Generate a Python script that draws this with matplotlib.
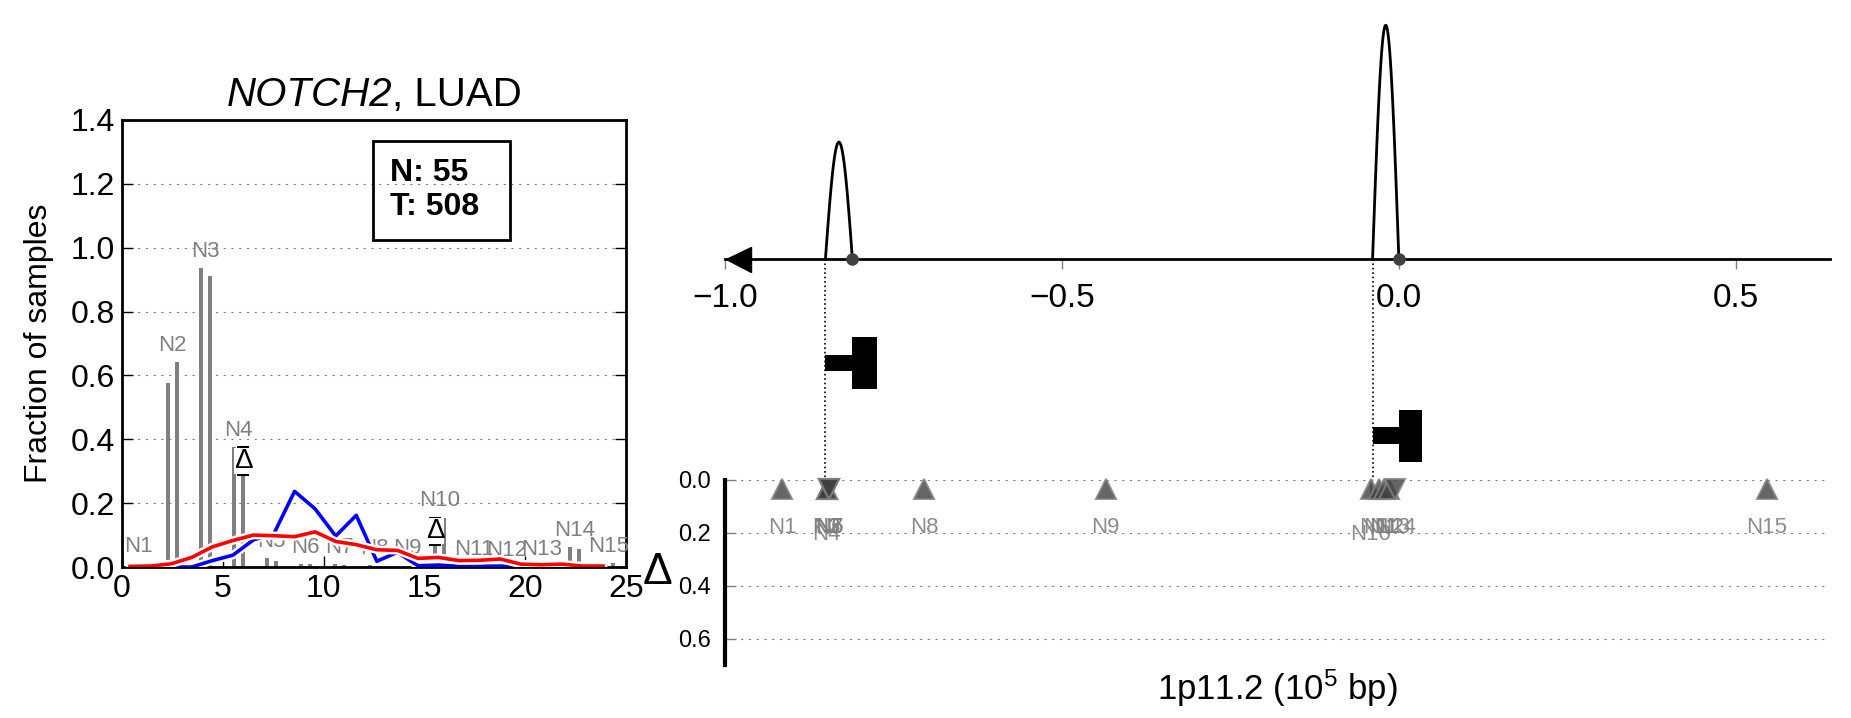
import numpy as np
import matplotlib
matplotlib.use('Agg')
import matplotlib.pyplot as plt
import matplotlib.patheffects as pe
import matplotlib.transforms as mtransforms
from matplotlib.patches import Rectangle

plt.rcParams['font.family'] = ['Liberation Sans', 'DejaVu Sans']
plt.rcParams['mathtext.fontset'] = 'custom'
plt.rcParams['mathtext.rm'] = 'Liberation Sans'
plt.rcParams['mathtext.it'] = 'Liberation Sans:italic'

# ---- left panel data: repeat-count peaks ----
peak_names = ['N1', 'N2', 'N3', 'N4', 'N5', 'N6', 'N7', 'N8', 'N9', 'N10',
              'N11', 'N12', 'N13', 'N14', 'N15']
peak_x = [0.82, 2.49, 4.15, 5.79, 7.42, 9.1, 10.8, 12.5, 14.15, 15.75,
          17.45, 19.1, 20.8, 22.46, 24.15]
normal_frac = [0.012, 0.575, 0.937, 0.375, 0.027, 0.008, 0.01, 0.006, 0.0, 0.069,
               0.0, 0.0, 0.0, 0.062, 0.0]
tumor_frac = [0.0, 0.643, 0.911, 0.288, 0.02, 0.01, 0.005, 0.004, 0.005, 0.155,
              0.004, 0.0, 0.003, 0.057, 0.012]
delta_peaks = ['N4', 'N10']

cn_x = [0.4, 1.42, 2.44, 3.46, 4.48, 5.5, 6.52, 7.54, 8.56, 9.58, 10.6, 11.62,
        12.64, 13.66, 14.68, 15.7, 16.72, 17.74, 18.76, 19.78, 20.8, 21.82, 22.84, 23.86]
normal_curve = [0.0, 0.0, 0.0, 0.0, 0.02, 0.037, 0.085, 0.105, 0.237, 0.182, 0.097, 0.162,
                0.018, 0.046, 0.004, 0.006, 0.002, 0.002, 0.003, 0.0, 0.0, 0.0, 0.0, 0.0]
tumor_curve = [0.002, 0.003, 0.01, 0.03, 0.063, 0.083, 0.1, 0.098, 0.095, 0.11, 0.08, 0.07,
               0.054, 0.052, 0.027, 0.03, 0.02, 0.021, 0.025, 0.009, 0.007, 0.009, 0.003, 0.003]
n_normal = 55
n_tumor = 508

# ---- right panel data: positions on 1p11.2 (10^5 bp) ----
site_x = [-0.915, -0.849, -0.849, -0.849, -0.845, -0.845, -0.845, -0.704, -0.435,
          -0.042, -0.030, -0.022, -0.014, -0.005, 0.546]
site_dir = ['^', '^', '^', '^', 'v', 'v', 'v', '^', '^', '^', '^', '^', '^', 'v', '^']
arc_start = [-0.851, -0.039]
arc_end = [-0.811, 0.0]
arc_height = [1.0, 2.0]
region = [-1.0, 0.64]

fig = plt.figure(figsize=(18.51, 7.18), dpi=100)

# ================= left panel =================
ax = fig.add_axes([0.0659, 0.2103, 0.2723, 0.6226])
off = 0.215
ax.bar(np.array(peak_x) - off, normal_frac, width=0.2, color='gray', zorder=2)
ax.bar(np.array(peak_x) + off, tumor_frac, width=0.2, color='gray', zorder=2)
for name, x, a, b in zip(peak_names, peak_x, normal_frac, tumor_frac):
    ax.text(x, max(a, b) + 0.035, name, color='gray', fontsize=16,
            ha='center', va='baseline', zorder=3)

stroke = [pe.Stroke(linewidth=6, foreground='white'), pe.Normal()]
ax.plot(cn_x, normal_curve, color='blue', lw=2.6, zorder=4, path_effects=stroke)
ax.plot(cn_x, tumor_curve, color='red', lw=2.6, zorder=4, path_effects=stroke)

for name, x, a, b in zip(peak_names, peak_x, normal_frac, tumor_frac):
    if name in delta_peaks:
        xd = x - off if a < b else x + off
        mid = (a + b) / 2.0
        ax.errorbar(xd, mid, yerr=abs(a - b) / 2.0, fmt='none', ecolor='k',
                    elinewidth=1.5, capsize=4, capthick=1.5, zorder=5)
        ax.text(xd, mid, u'\u0394', fontsize=20, ha='center', va='center', zorder=6,
                bbox=dict(boxstyle='square,pad=0.0', fc='white', ec='none'))

ax.add_patch(Rectangle((0.498, 0.732), 0.272, 0.222, transform=ax.transAxes,
                       fill=False, lw=2, zorder=7))
ax.text(0.531, 0.843, 'N: %d\nT: %d' % (n_normal, n_tumor), transform=ax.transAxes,
        fontsize=23, fontweight='bold', ha='left', va='center', zorder=7)

ax.set_xlim(0, 25)
ax.set_ylim(0, 1.4)
ax.set_yticks(np.arange(0, 1.41, 0.2))
ax.yaxis.grid(True, ls=(0, (2, 5)), color='gray', lw=0.8)
ax.set_axisbelow(True)
ax.tick_params(direction='in', length=8, width=1, right=True, top=False, labelsize=23, pad=5)
for s in ax.spines.values():
    s.set_linewidth(2)
ax.set_ylabel('Fraction of samples', fontsize=23, labelpad=12)

# title: italic gene name followed by the cohort
tpos = mtransforms.offset_copy(ax.transAxes, fig=fig, x=0, y=4, units='points')
t1 = ax.text(0.5, 1.0, 'NOTCH2', transform=tpos, fontsize=29, style='italic',
             ha='left', va='bottom')
t2 = ax.annotate(', LUAD', xy=(1, 0), xycoords=t1, fontsize=29, ha='left', va='bottom')
fig.canvas.draw()
w1 = t1.get_window_extent().width
w2 = t2.get_window_extent().width
axbox = ax.get_window_extent()
t1.set_x(0.5 - (w1 + w2) / 2.0 / axbox.width)

# ================= right panel: gene track =================
axg = fig.add_axes([0.3917, 0.3315, 0.597, 0.6448])
axg.set_xlim(region)
axg.set_ylim(-1.89, 2.07)
axg.patch.set_visible(False)
for s in ['top', 'right', 'left']:
    axg.spines[s].set_visible(False)
axg.spines['bottom'].set_position(('data', 0))
axg.spines['bottom'].set_bounds(region[0], region[1])
axg.spines['bottom'].set_linewidth(2)
axg.yaxis.set_visible(False)
axg.set_xticks([-1.0, -0.5, 0.0, 0.5])
axg.tick_params(axis='x', direction='out', length=7, width=1, color='gray',
                labelsize=24, pad=10)
axg.plot([region[0] + 0.019], [0], marker='<', ms=18, color='k', clip_on=False)

for x0, x1, h, yrow in zip(arc_start, arc_end, arc_height, [-0.89, -1.51]):
    t = np.linspace(0, 1, 100)
    axg.plot(x0 + (x1 - x0) * t, h * np.sin(np.pi * t), color='k', lw=2)
    axg.plot([x1], [0], 'o', color='#404040', ms=8, zorder=5)
    axg.plot([x0, x0], [0, -1.89], ls=':', color='k', lw=1.2)
    w = x1 - x0
    axg.add_patch(Rectangle((x0, yrow - 0.07), w, 0.14, color='k', lw=0))
    axg.add_patch(Rectangle((x1, yrow - 0.222), w * 0.9, 0.444, color='k', lw=0))

# ================= right panel: delta axis =================
axd = fig.add_axes([0.3917, 0.0738, 0.597, 0.2577])
axd.set_xlim(region)
axd.set_ylim(0.7, 0)
for s in ['top', 'right', 'bottom']:
    axd.spines[s].set_visible(False)
axd.spines['left'].set_linewidth(3)
axd.set_xticks([])
axd.set_yticks([0.0, 0.2, 0.4, 0.6])
axd.tick_params(axis='y', direction='in', length=8, width=1, color='gray', labelsize=17, pad=10)
axd.yaxis.grid(True, ls=(0, (2, 5)), color='gray', lw=0.8)
axd.set_ylabel(u'\u0394', fontsize=32, rotation=0, ha='right', va='center', labelpad=4)
axd.set_xlabel('1p11.2 (10$^5$ bp)', fontsize=25, labelpad=2)

for name, x, m in zip(peak_names, site_x, site_dir):
    if name in delta_peaks:
        axd.errorbar(x, 0.035, yerr=0.04, fmt='none', ecolor='gray', elinewidth=1.5, zorder=3)
    axd.plot([x], [0.035], marker=m, ms=15, color='#404040', alpha=0.8,
             mec='#808080', mew=1.5, ls='none', zorder=4, clip_on=False)
    ly = 0.205 if name in delta_peaks else 0.18
    axd.text(x, ly, name, color='gray', fontsize=16, ha='center', va='center', alpha=0.9)

fig.savefig('out.png', dpi=100)
